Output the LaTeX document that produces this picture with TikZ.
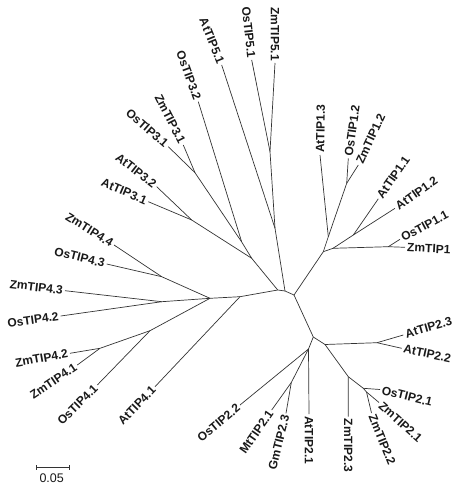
\documentclass[tikz,border=0pt]{standalone}
\usepackage{fontspec}
\setmainfont{Liberation Sans}
\begin{document}
\begin{tikzpicture}[x=1pt,y=-1pt,
  br/.style={draw=black!80, line width=0.7pt},
  lbl/.style={font=\fontsize{12}{12}\selectfont\bfseries, inner sep=2pt, text=black!90},
  sbar/.style={draw=black!80, line width=0.7pt}]
\useasboundingbox (0,0) rectangle (454,484);
% internal nodes
\coordinate (C1) at (277.7,290);
\coordinate (C2) at (285,291);
\coordinate (C3) at (294,295);
% TIP4
\coordinate (N4) at (210,298.3);
\coordinate (N4a) at (240,296.7);
\coordinate (J44) at (161.7,276.7);
\coordinate (J43) at (161.7,301.7);
\coordinate (J41) at (150,330.7);
\coordinate (J42) at (100,348.3);
% TIP3
\coordinate (P3) at (251.7,258.3);
\coordinate (Q3) at (241.7,242);
\coordinate (J3a) at (191.7,220);
\coordinate (J3b) at (195,172.7);
% TIP5
\coordinate (J5b) at (275,228.3);
\coordinate (J5a) at (270,151.7);
% TIP1
\coordinate (T1) at (323.3,251.7);
\coordinate (T1u) at (328.3,236.7);
\coordinate (J12) at (346.7,183.3);
\coordinate (T1b) at (333,248.3);
\coordinate (J11) at (353.3,235);
\coordinate (J1) at (388.3,246.7);
% TIP2
\coordinate (N2) at (313.3,337);
\coordinate (N2b) at (325,344.5);
\coordinate (J22) at (377,342.7);
\coordinate (J23) at (348.3,376.7);
\coordinate (J21) at (363.3,388.3);
\coordinate (Jz) at (366.5,392);
\coordinate (N2c) at (308.5,349);
\coordinate (Jmg) at (291.3,382.5);
% leaves
\coordinate (z51) at (275,63);
\coordinate (o51) at (251.7,60);
\coordinate (a51) at (221.7,65);
\coordinate (o32) at (198.3,101.7);
\coordinate (z31) at (183.3,145);
\coordinate (o31) at (168.3,146.7);
\coordinate (a32) at (156.7,186.7);
\coordinate (a31) at (148.3,201.7);
\coordinate (z44) at (114,245);
\coordinate (o43) at (106.7,264);
\coordinate (z43) at (65,290.7);
\coordinate (o42) at (60.7,316);
\coordinate (z42) at (70,353.3);
\coordinate (z41) at (77.3,365);
\coordinate (o41) at (97.3,385);
\coordinate (a41) at (155,386.7);
\coordinate (o22) at (240,405);
\coordinate (m21) at (271.7,410);
\coordinate (g23) at (286,413.3);
\coordinate (a21) at (309,414);
\coordinate (z23) at (348.3,416.7);
\coordinate (z22) at (371.5,413);
\coordinate (z21) at (379,402.5);
\coordinate (o21) at (380,389.5);
\coordinate (a22) at (401.7,348.3);
\coordinate (a23) at (403.3,335);
\coordinate (z1) at (405,247.3);
\coordinate (o11) at (400,239.3);
\coordinate (a12) at (395,208.3);
\coordinate (a11) at (378.3,198.8);
\coordinate (z12) at (358.3,165);
\coordinate (o12) at (348.3,158.3);
\coordinate (a13) at (320,155);
% branches
\draw[br] (C1) -- (C2) -- (C3);
\draw[br] (C1) -- (N4a) -- (N4);
\draw[br] (N4a) -- (a41);
\draw[br] (N4) -- (J44) -- (z44); \draw[br] (J44) -- (o43);
\draw[br] (N4) -- (J43) -- (z43); \draw[br] (J43) -- (o42);
\draw[br] (N4) -- (J41) -- (o41); \draw[br] (J41) -- (J42) -- (z42); \draw[br] (J42) -- (z41);
\draw[br] (C1) -- (P3) -- (J3a) -- (a32); \draw[br] (J3a) -- (a31);
\draw[br] (P3) -- (Q3) -- (o32); \draw[br] (Q3) -- (J3b) -- (o31); \draw[br] (J3b) -- (z31);
\draw[br] (C2) -- (J5b) -- (a51); \draw[br] (J5b) -- (J5a) -- (o51); \draw[br] (J5a) -- (z51);
\draw[br] (C3) -- (T1) -- (T1u) -- (a13); \draw[br] (T1u) -- (J12) -- (o12); \draw[br] (J12) -- (z12);
\draw[br] (T1) -- (T1b) -- (J11) -- (a11); \draw[br] (J11) -- (a12);
\draw[br] (T1b) -- (J1) -- (o11); \draw[br] (J1) -- (z1);
\draw[br] (C3) -- (N2) -- (N2b) -- (J22) -- (a23); \draw[br] (J22) -- (a22);
\draw[br] (N2b) -- (J23) -- (z23); \draw[br] (J23) -- (J21) -- (o21); \draw[br] (J21) -- (Jz) -- (z21); \draw[br] (Jz) -- (z22);
\draw[br] (N2) -- (N2c) -- (a21); \draw[br] (N2c) -- (o22); \draw[br] (N2c) -- (Jmg) -- (m21); \draw[br] (Jmg) -- (g23);
% labels
\node[lbl, rotate=-90, anchor=east] (lz51) at (z51) {ZmTIP5.1};
\node[lbl, rotate=-84, anchor=east] (lo51) at (o51) {OsTIP5.1};
\node[lbl, rotate=-68, anchor=east] (la51) at (a51) {AtTIP5.1};
\node[lbl, rotate=-70, anchor=east] (lo32) at (o32) {OsTIP3.2};
\node[lbl, rotate=-63, anchor=east] (lz31) at (z31) {ZmTIP3.1};
\node[lbl, rotate=-41, anchor=east] (lo31) at (o31) {OsTIP3.1};
\node[lbl, rotate=-38, anchor=east] (la32) at (a32) {AtTIP3.2};
\node[lbl, rotate=-23, anchor=east] (la31) at (a31) {AtTIP3.1};
\node[lbl, rotate=-32, anchor=east] (lz44) at (z44) {ZmTIP4.4};
\node[lbl, rotate=-14, anchor=east] (lo43) at (o43) {OsTIP4.3};
\node[lbl, rotate=-7, anchor=east] (lz43) at (z43) {ZmTIP4.3};
\node[lbl, rotate=8, anchor=east] (lo42) at (o42) {OsTIP4.2};
\node[lbl, rotate=10, anchor=east] (lz42) at (z42) {ZmTIP4.2};
\node[lbl, rotate=34, anchor=east] (lz41) at (z41) {ZmTIP4.1};
\node[lbl, rotate=45, anchor=east] (lo41) at (o41) {OsTIP4.1};
\node[lbl, rotate=46, anchor=east] (la41) at (a41) {AtTIP4.1};
\node[lbl, rotate=40, anchor=east] (lo22) at (o22) {OsTIP2.2};
\node[lbl, rotate=55, anchor=east] (lm21) at (m21) {MtTIP2.1};
\node[lbl, rotate=76, anchor=east] (lg23) at (g23) {GmTIP2.3};
\node[lbl, rotate=-90, anchor=west] (la21) at (a21) {AtTIP2.1};
\node[lbl, rotate=-90, anchor=west] (lz23) at (z23) {ZmTIP2.3};
\node[lbl, rotate=-68, anchor=west] (lz22) at (z22) {ZmTIP2.2};
\node[lbl, rotate=-42, anchor=west] (lz21) at (z21) {ZmTIP2.1};
\node[lbl, rotate=-14, anchor=west] (lo21) at (o21) {OsTIP2.1};
\node[lbl, rotate=-12, anchor=west] (la22) at (a22) {AtTIP2.2};
\node[lbl, rotate=16, anchor=west] (la23) at (a23) {AtTIP2.3};
\node[lbl, rotate=-3, anchor=west] (lz1) at (z1) {ZmTIP1};
\node[lbl, rotate=28, anchor=west] (lo11) at (o11) {OsTIP1.1};
\node[lbl, rotate=35, anchor=west] (la12) at (a12) {AtTIP1.2};
\node[lbl, rotate=55, anchor=west] (la11) at (a11) {AtTIP1.1};
\node[lbl, rotate=65, anchor=west] (lz12) at (z12) {ZmTIP1.2};
\node[lbl, rotate=82, anchor=west] (lo12) at (o12) {OsTIP1.2};
\node[lbl, rotate=89, anchor=west] (la13) at (a13) {AtTIP1.3};
% scale bar
\coordinate (sb1) at (36,467.3);
\coordinate (sb2) at (69.3,467.3);
\draw[sbar] (sb1) -- (sb2);
\draw[sbar] ([yshift=-2.5pt]sb1) -- ([yshift=2.5pt]sb1);
\draw[sbar] ([yshift=-2.5pt]sb2) -- ([yshift=2.5pt]sb2);
\node[font=\fontsize{12.5}{12.5}\selectfont, text=black!90, inner sep=0pt] (sbl) at (51.7,478.5) {0.05};
\end{tikzpicture}
\end{document}
